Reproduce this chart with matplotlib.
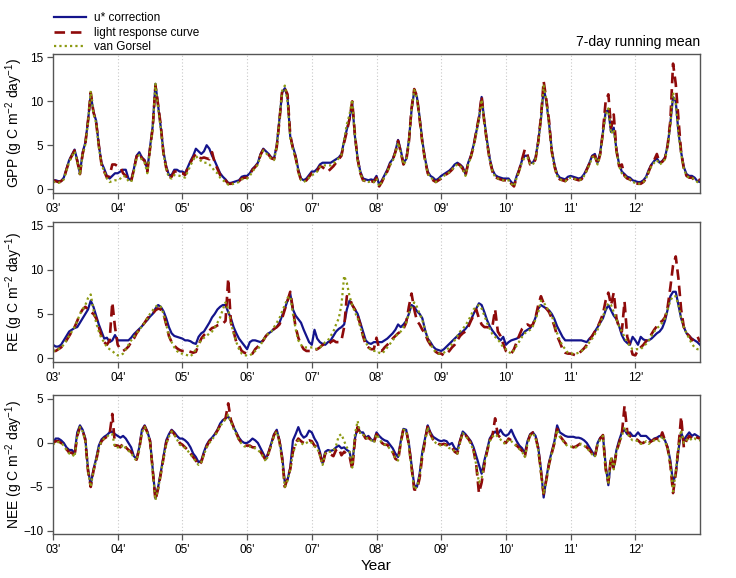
import numpy as np
import matplotlib
matplotlib.use('Agg')
import matplotlib.pyplot as plt
from matplotlib.lines import Line2D

plt.rcParams['font.family'] = ['Liberation Sans', 'DejaVu Sans']
plt.rcParams['mathtext.default'] = 'regular'

# semi-monthly samples, 2003-01 .. 2013-01
year = 2003 + np.arange(241) / 24.0

# GPP (g C m-2 day-1)
gpp_ustar = [
    1.0, 1.0, 0.9, 0.9, 1.3, 2.3, 3.3, 3.9, 4.5, 3.3, 1.8, 4.2, 5.3, 7.8, 10.8, 8.8, 7.8, 5.0, 3.0, 2.3, 1.5, 1.2, 1.5, 1.8,
    1.8, 2.0, 2.2, 2.2, 1.2, 1.0, 2.3, 3.8, 4.2, 3.6, 3.3, 2.2, 4.8, 7.2, 12.0, 9.5, 7.0, 4.2, 2.6, 1.6, 1.6, 2.2, 2.2, 2.0,
    2.0, 1.8, 2.5, 3.2, 3.8, 4.6, 4.3, 4.0, 4.3, 5.0, 4.6, 3.8, 3.2, 2.5, 1.8, 1.4, 1.1, 0.7, 0.7, 0.8, 0.9, 1.0, 1.4, 1.5,
    1.5, 1.8, 2.3, 2.6, 3.0, 4.0, 4.6, 4.3, 4.0, 3.6, 3.5, 5.0, 8.0, 11.0, 11.5, 10.5, 6.0, 4.8, 3.8, 2.2, 1.2, 1.0, 1.2, 1.6,
    2.0, 2.0, 2.3, 2.8, 3.0, 3.0, 3.0, 3.0, 3.2, 3.4, 3.6, 4.0, 5.5, 6.8, 8.0, 9.8, 6.0, 3.5, 2.0, 1.2, 1.1, 1.0, 1.1, 1.0,
    1.5, 0.5, 1.0, 1.6, 2.2, 3.0, 3.4, 4.3, 5.6, 4.4, 3.0, 3.4, 5.5, 9.0, 11.2, 10.5, 8.2, 5.5, 3.5, 2.0, 1.5, 1.3, 1.0, 1.2,
    1.5, 1.7, 1.9, 2.1, 2.4, 2.8, 3.0, 2.8, 2.5, 1.7, 3.0, 3.8, 5.0, 6.5, 8.0, 10.5, 7.8, 5.5, 3.5, 2.2, 1.6, 1.4, 1.3, 1.2,
    1.2, 1.2, 0.8, 0.5, 1.5, 2.3, 3.3, 3.8, 3.8, 3.0, 3.0, 3.6, 5.5, 8.0, 11.5, 10.0, 7.5, 4.5, 2.8, 1.7, 1.3, 1.2, 1.1, 1.4,
    1.5, 1.4, 1.3, 1.2, 1.3, 1.7, 2.3, 3.0, 3.8, 4.0, 3.0, 4.2, 6.5, 8.8, 9.0, 6.5, 7.0, 4.5, 2.8, 2.0, 1.7, 1.4, 1.3, 1.0,
    0.9, 0.8, 0.8, 1.0, 1.4, 2.2, 2.8, 3.2, 3.5, 3.0, 3.2, 3.6, 5.0, 7.5, 10.5, 10.0, 6.5, 4.2, 2.5, 1.7, 1.5, 1.5, 1.3, 0.9,
    0.8]
gpp_lrc = [
    1.0, 0.9, 0.8, 0.9, 1.2, 2.2, 3.2, 3.8, 4.4, 3.2, 1.7, 4.0, 5.2, 7.8, 11.0, 8.8, 7.6, 5.0, 2.8, 2.0, 1.3, 1.5, 2.8, 2.8,
    2.6, 2.5, 1.8, 1.5, 1.1, 0.9, 2.2, 3.7, 4.1, 3.5, 3.2, 2.0, 4.6, 7.0, 11.8, 9.6, 7.2, 4.0, 2.4, 1.4, 1.4, 2.0, 2.0, 1.8,
    1.8, 1.6, 2.4, 3.0, 3.6, 4.0, 3.6, 3.5, 3.6, 3.5, 3.4, 4.2, 3.0, 2.3, 1.6, 1.2, 1.0, 0.6, 0.6, 0.7, 0.8, 0.9, 1.2, 1.3,
    1.3, 1.6, 2.2, 2.5, 2.9, 3.9, 4.5, 4.3, 3.9, 3.5, 3.4, 4.8, 7.8, 11.2, 11.5, 10.8, 6.2, 4.6, 3.6, 2.0, 1.0, 0.8, 1.0, 1.4,
    1.8, 1.8, 2.1, 2.6, 2.5, 2.2, 2.0, 2.3, 2.6, 3.0, 3.4, 3.8, 5.3, 6.6, 8.0, 10.0, 6.2, 3.4, 1.8, 1.0, 0.9, 0.8, 0.9, 0.8,
    1.3, 0.3, 0.8, 1.5, 2.0, 2.8, 3.3, 4.2, 5.5, 4.2, 2.8, 3.2, 5.3, 9.2, 11.4, 10.6, 8.0, 5.3, 3.3, 1.8, 1.2, 1.0, 0.8, 1.0,
    1.2, 1.5, 1.7, 1.9, 2.2, 2.6, 2.9, 2.7, 2.3, 1.5, 2.9, 3.7, 4.8, 6.6, 8.2, 10.6, 7.6, 5.3, 3.3, 2.0, 1.4, 1.2, 1.1, 1.0,
    1.0, 1.0, 0.6, 0.3, 1.3, 2.2, 3.4, 4.5, 3.9, 2.8, 2.8, 3.4, 5.4, 8.2, 12.3, 10.2, 7.8, 4.3, 2.6, 1.5, 1.1, 1.0, 0.9, 1.2,
    1.3, 1.2, 1.1, 1.0, 1.1, 1.5, 2.2, 2.9, 3.7, 3.8, 2.8, 4.0, 6.6, 10.0, 10.8, 7.0, 8.5, 4.4, 2.6, 2.8, 1.5, 1.2, 1.1, 0.8,
    0.7, 0.6, 0.6, 0.8, 1.2, 2.0, 2.8, 3.3, 4.0, 3.0, 3.1, 3.5, 5.0, 7.8, 14.3, 12.0, 8.0, 4.2, 2.3, 1.5, 1.3, 1.3, 1.0, 1.2,
    1.0]
gpp_vg = [
    0.8, 0.8, 0.7, 0.8, 1.1, 2.1, 3.1, 3.7, 4.3, 3.1, 1.6, 4.0, 5.1, 7.6, 11.2, 8.6, 7.5, 4.8, 2.8, 2.0, 1.2, 0.8, 0.9, 1.0,
    1.0, 1.2, 1.5, 1.4, 0.9, 0.8, 2.0, 3.5, 3.9, 3.3, 3.0, 1.8, 4.5, 7.0, 12.0, 9.2, 6.8, 4.0, 2.3, 1.3, 1.2, 1.6, 1.6, 1.5,
    1.4, 1.3, 2.0, 2.7, 3.3, 3.8, 3.4, 3.2, 3.0, 3.0, 2.8, 2.5, 2.0, 1.8, 1.3, 1.0, 0.8, 0.5, 0.5, 0.6, 0.7, 0.8, 1.1, 1.2,
    1.2, 1.5, 2.0, 2.4, 2.8, 3.8, 4.4, 4.1, 3.8, 3.4, 3.3, 4.8, 8.0, 11.2, 11.8, 10.0, 5.8, 4.5, 3.5, 1.9, 1.0, 0.8, 1.0, 1.3,
    1.6, 1.7, 2.0, 2.5, 2.7, 2.7, 2.7, 2.7, 2.9, 3.2, 3.5, 3.9, 5.6, 7.4, 8.5, 10.2, 6.0, 3.3, 1.8, 1.0, 0.9, 0.8, 0.9, 0.8,
    1.2, 0.3, 0.8, 1.4, 2.0, 2.7, 3.2, 4.1, 5.3, 4.2, 2.8, 3.2, 5.4, 9.0, 11.3, 10.4, 8.0, 5.3, 3.3, 1.8, 1.3, 1.1, 0.8, 1.0,
    1.3, 1.5, 1.7, 1.9, 2.2, 2.6, 2.8, 2.6, 2.3, 1.5, 2.8, 3.6, 4.8, 6.3, 8.0, 10.2, 7.6, 5.3, 3.3, 2.0, 1.4, 1.2, 1.1, 1.0,
    1.0, 1.0, 0.6, 0.3, 1.3, 2.1, 3.1, 3.6, 3.6, 2.8, 2.8, 3.4, 5.3, 8.0, 11.8, 10.0, 7.3, 4.3, 2.6, 1.5, 1.1, 1.0, 0.9, 1.2,
    1.3, 1.2, 1.1, 1.0, 1.1, 1.5, 2.1, 2.8, 3.6, 3.8, 2.8, 4.0, 6.3, 8.5, 9.2, 6.3, 6.8, 4.3, 2.6, 1.8, 1.5, 1.2, 1.1, 0.8,
    0.7, 0.6, 0.6, 0.8, 1.2, 2.0, 2.6, 3.0, 3.3, 2.8, 3.0, 3.4, 4.8, 7.3, 11.0, 9.8, 6.3, 4.0, 2.3, 1.5, 1.3, 1.3, 1.1, 0.8,
    0.7]

# RE (g C m-2 day-1)
re_ustar = [
    1.5, 1.3, 1.3, 1.5, 2.0, 2.5, 3.0, 3.2, 3.4, 3.5, 4.0, 4.5, 5.0, 5.5, 6.5, 5.8, 4.8, 3.8, 3.0, 2.2, 2.3, 1.8, 2.0, 2.6,
    2.0, 2.0, 2.0, 2.0, 2.0, 2.3, 2.7, 3.0, 3.3, 3.6, 4.0, 4.3, 4.7, 5.0, 5.6, 6.0, 5.8, 5.3, 4.5, 3.5, 2.8, 2.5, 2.4, 2.3,
    2.2, 2.0, 2.0, 1.9, 1.7, 1.6, 2.4, 2.8, 3.0, 3.5, 4.0, 4.6, 5.0, 5.5, 5.8, 6.0, 6.0, 5.2, 4.5, 3.5, 2.8, 2.2, 1.8, 1.4,
    1.0, 1.8, 2.0, 2.0, 1.9, 1.8, 2.0, 2.5, 2.8, 3.0, 3.3, 3.5, 4.0, 4.8, 5.6, 6.5, 7.3, 5.5, 4.8, 4.4, 4.0, 3.2, 2.5, 1.8,
    1.5, 3.2, 2.2, 1.8, 1.6, 1.5, 1.8, 2.0, 2.5, 3.0, 3.3, 3.5, 3.8, 5.5, 6.5, 6.0, 5.5, 5.0, 4.0, 3.0, 2.0, 1.7, 1.6, 1.8,
    1.8, 1.8, 1.8, 2.0, 2.2, 2.5, 2.8, 3.2, 3.8, 3.5, 3.8, 4.2, 5.0, 6.0, 5.8, 5.3, 5.0, 4.5, 3.2, 2.2, 1.8, 1.3, 1.0, 0.9,
    0.8, 1.0, 1.3, 1.6, 1.9, 2.2, 2.5, 2.8, 3.0, 3.3, 3.7, 4.3, 5.0, 5.6, 6.2, 6.0, 5.2, 4.3, 3.6, 3.1, 2.7, 2.3, 2.0, 2.4,
    1.5, 1.8, 2.0, 2.1, 2.2, 2.4, 2.6, 3.0, 3.2, 3.4, 3.8, 4.6, 5.6, 6.0, 5.8, 5.6, 5.4, 5.0, 4.4, 3.6, 3.0, 2.4, 2.0, 2.0,
    2.0, 2.0, 2.0, 2.0, 2.0, 1.9, 1.8, 2.2, 2.5, 3.0, 3.5, 4.0, 4.5, 5.4, 6.0, 5.4, 4.8, 4.4, 3.6, 2.6, 2.0, 1.7, 1.5, 2.4,
    2.0, 1.5, 2.4, 2.1, 2.0, 2.0, 2.2, 2.5, 2.8, 3.0, 3.4, 4.2, 5.5, 7.0, 7.5, 7.5, 6.0, 4.5, 3.5, 2.8, 2.5, 2.2, 2.0, 1.8,
    1.5]
re_lrc = [
    0.8, 0.8, 1.0, 1.2, 1.5, 2.0, 2.5, 3.0, 3.5, 4.2, 5.0, 5.5, 5.8, 5.5, 5.2, 5.0, 4.5, 3.5, 2.5, 1.8, 1.5, 2.0, 6.3, 3.5,
    1.5, 1.0, 0.8, 1.0, 1.3, 1.8, 2.2, 2.8, 3.2, 3.6, 4.0, 4.5, 4.8, 5.0, 5.4, 5.6, 5.5, 5.0, 3.8, 2.5, 1.8, 1.4, 1.1, 0.9,
    0.8, 0.8, 0.8, 0.7, 0.6, 0.7, 1.5, 2.2, 2.6, 2.9, 3.1, 3.4, 3.5, 3.7, 3.8, 3.9, 4.2, 9.0, 4.0, 3.0, 1.8, 1.4, 0.8, 0.6,
    0.5, 0.4, 0.5, 1.0, 1.3, 1.6, 2.0, 2.5, 2.8, 3.0, 3.3, 3.5, 3.8, 4.5, 5.5, 6.5, 7.5, 5.5, 3.5, 2.3, 1.5, 1.0, 0.8, 0.8,
    0.8, 0.9, 1.0, 1.2, 1.5, 1.5, 1.5, 1.8, 2.0, 1.8, 1.8, 2.0, 3.5, 7.0, 6.8, 6.0, 5.5, 4.8, 3.8, 2.5, 1.5, 1.2, 1.0, 1.0,
    2.3, 1.0, 0.8, 1.2, 1.5, 1.8, 2.2, 2.5, 2.8, 3.0, 3.3, 4.0, 5.8, 7.3, 5.5, 4.2, 3.8, 3.2, 2.8, 2.0, 1.5, 1.0, 0.7, 0.5,
    0.5, 0.3, 0.5, 0.8, 1.2, 1.5, 2.0, 2.5, 2.8, 3.0, 3.5, 4.2, 4.8, 5.5, 4.5, 3.8, 3.5, 3.5, 3.4, 3.6, 5.5, 3.0, 2.5, 1.6,
    0.8, 0.6, 0.5, 1.0, 1.8, 2.6, 3.3, 3.6, 3.8, 3.6, 3.8, 4.6, 6.0, 7.0, 6.2, 5.6, 5.2, 4.5, 3.6, 2.5, 1.8, 1.0, 0.6, 0.5,
    0.5, 0.4, 0.3, 0.5, 0.8, 1.1, 1.5, 2.0, 2.5, 3.0, 3.5, 4.2, 5.0, 6.5, 7.4, 6.0, 7.4, 4.5, 3.4, 3.0, 6.4, 2.4, 1.5, 0.4,
    0.3, 0.9, 1.2, 1.5, 1.9, 2.3, 2.7, 3.2, 3.6, 4.0, 4.2, 4.6, 5.8, 8.0, 10.5, 11.5, 9.0, 5.5, 3.5, 2.8, 2.5, 2.0, 2.3, 2.5,
    1.8]
re_vg = [
    0.8, 0.8, 1.0, 1.2, 1.5, 2.0, 2.5, 3.0, 3.5, 4.2, 5.0, 5.5, 6.0, 6.8, 7.2, 5.5, 4.0, 3.0, 2.2, 1.8, 1.2, 1.0, 0.8, 0.5,
    0.3, 0.3, 0.5, 1.0, 1.5, 2.0, 2.4, 2.8, 3.2, 3.6, 4.0, 4.5, 5.0, 5.4, 5.8, 6.0, 5.8, 5.0, 3.8, 2.5, 1.8, 1.2, 0.8, 0.5,
    0.5, 0.4, 0.3, 0.2, 0.5, 1.0, 1.6, 2.0, 2.3, 2.5, 2.8, 3.0, 3.5, 4.0, 4.6, 5.5, 6.3, 5.5, 4.0, 2.8, 1.8, 1.0, 0.5, 0.3,
    0.3, 0.3, 0.5, 0.8, 1.0, 1.5, 2.0, 2.5, 2.8, 3.0, 3.5, 4.0, 4.5, 5.3, 6.0, 6.8, 7.0, 5.0, 3.3, 2.0, 1.5, 1.2, 1.2, 1.2,
    1.2, 1.1, 1.0, 1.2, 1.5, 1.8, 2.0, 2.5, 3.0, 3.8, 4.5, 6.0, 9.3, 8.5, 7.0, 6.0, 5.2, 4.5, 3.5, 2.5, 1.8, 1.2, 0.9, 0.8,
    0.8, 0.6, 0.5, 0.8, 1.2, 1.6, 2.0, 2.4, 2.8, 3.0, 3.5, 4.0, 5.0, 5.8, 6.3, 5.8, 5.0, 4.3, 3.2, 2.3, 1.6, 1.0, 0.7, 0.5,
    0.5, 0.6, 0.9, 1.2, 1.6, 2.0, 2.5, 3.0, 3.3, 3.7, 4.2, 4.8, 5.5, 5.8, 6.0, 5.6, 4.8, 4.0, 3.3, 2.7, 2.4, 2.1, 1.7, 1.2,
    1.0, 0.7, 0.5, 0.9, 1.4, 1.9, 2.4, 2.8, 3.0, 3.2, 3.6, 4.4, 5.2, 6.5, 6.3, 5.8, 5.3, 4.8, 3.8, 2.8, 2.0, 1.4, 1.0, 0.6,
    0.5, 0.5, 0.5, 0.6, 0.8, 1.0, 1.3, 1.8, 2.2, 2.7, 3.2, 4.0, 4.7, 5.6, 6.2, 6.0, 5.2, 4.4, 3.6, 3.0, 2.4, 1.8, 1.3, 1.0,
    1.0, 1.0, 1.0, 1.3, 1.6, 2.0, 2.5, 3.0, 3.4, 3.6, 4.0, 4.5, 5.5, 6.5, 7.0, 7.0, 6.0, 4.5, 3.5, 2.8, 2.2, 1.6, 1.2, 1.0,
    1.0]

# NEE (g C m-2 day-1)
nee_ustar = [
    0.0, 0.5, 0.5, 0.3, 0.0, -0.5, -0.8, -0.8, -1.2, 1.2, 2.0, 1.5, 0.5, -3.0, -4.8, -3.0, -1.8, -0.3, 0.4, 0.7, 0.9, 1.2, 1.3, 1.0,
    0.8, 0.6, 0.8, 0.5, 0.0, -0.5, -1.5, -1.8, -0.5, 1.5, 2.0, 1.3, 0.3, -3.0, -6.3, -5.0, -3.3, -1.5, 0.3, 1.0, 1.5, 1.2, 0.8, 0.5,
    0.5, 0.3, 0.0, -0.5, -1.2, -1.6, -2.2, -2.0, -1.0, -0.2, 0.3, 0.6, 1.0, 1.5, 2.2, 2.6, 2.8, 3.0, 2.5, 1.8, 1.2, 0.6, 0.2, 0.0,
    0.0, 0.2, 0.5, 0.3, 0.0, -0.6, -1.2, -1.8, -1.0, 0.0, 1.0, 1.5, 0.3, -1.5, -4.5, -4.2, -2.8, 0.3, 1.0, 1.8, 1.0, 0.6, 0.8, 1.4,
    1.2, 0.5, 0.0, -1.0, -2.3, -1.0, -0.8, -0.9, -0.8, -0.5, -0.3, -0.6, -0.5, -0.8, -1.0, -2.5, 0.5, 1.8, 1.2, 1.2, 0.6, 0.8, 0.4, 0.2,
    1.2, 0.8, 0.5, 0.3, 0.2, -0.2, -0.6, -1.2, -1.6, 0.2, 1.6, 1.5, 0.0, -2.5, -4.8, -5.0, -3.5, -1.0, 0.5, 2.0, 1.2, 0.7, 0.5, 0.3,
    0.2, 0.3, 0.2, -0.2, 0.0, -0.6, -0.8, 0.3, 1.3, 1.0, 0.6, 0.2, -0.5, -1.5, -2.5, -3.5, -2.0, -0.8, 0.5, 1.0, 1.3, 1.0, 1.5, 1.0,
    0.8, 1.0, 1.5, 0.8, 0.2, -0.3, -0.6, -1.2, 0.2, 1.0, 1.2, 0.8, -0.5, -3.0, -6.2, -4.0, -2.2, -1.0, 0.2, 2.0, 1.2, 1.0, 0.8, 0.7,
    0.7, 0.7, 0.6, 0.6, 0.5, 0.3, 0.0, -0.5, -1.0, -1.5, 0.0, 0.6, 0.8, -2.5, -4.8, -1.8, -2.8, -0.8, 0.3, 1.2, 1.5, 1.0, 1.2, 0.8,
    0.8, 1.2, 0.8, 0.8, 0.8, 0.5, 0.2, 0.5, 0.6, 0.8, 0.7, 0.3, -0.5, -2.0, -4.5, -3.5, -0.8, 1.2, 0.3, 0.8, 1.2, 0.8, 1.0, 0.8,
    0.6]
nee_lrc = [
    0.0, 0.2, 0.2, 0.0, -0.2, -0.7, -1.1, -1.1, -1.5, 0.8, 1.8, 1.4, 0.3, -3.2, -5.0, -3.2, -2.0, -0.6, 0.2, 0.5, 0.7, 1.0, 3.3, -0.3,
    -0.3, -0.5, 0.0, -0.5, -0.8, -1.0, -1.6, -1.9, -0.7, 1.3, 1.9, 1.2, 0.2, -3.2, -6.5, -5.2, -3.5, -1.7, 0.0, 0.8, 1.4, 1.0, 0.5, 0.0,
    -0.2, -0.5, -0.8, -1.2, -1.6, -2.0, -2.5, -2.2, -1.2, -0.4, 0.2, 0.5, 0.9, 1.4, 2.0, 2.4, 2.8, 4.5, 2.6, 1.8, 1.1, 0.4, 0.0, -0.3,
    -0.3, -0.3, -0.5, -0.5, -0.7, -1.0, -1.5, -2.0, -1.1, -0.1, 0.9, 1.4, 0.2, -1.8, -5.0, -4.0, -3.0, -1.0, 0.0, 0.5, 0.2, 0.0, 0.2, 0.3,
    0.2, -0.3, -0.5, -1.3, -2.5, -1.2, -1.0, -1.3, -1.5, -0.8, -0.6, -1.4, -1.0, -1.3, -1.5, -3.0, 0.3, 1.8, 1.0, 1.0, 0.5, 0.6, 0.3, 0.0,
    1.0, 0.5, 0.0, -0.2, -0.2, -0.6, -1.0, -1.8, -2.0, 0.0, 1.6, 1.5, -0.2, -2.8, -5.3, -5.3, -4.0, -1.5, 0.2, 2.0, 1.0, 0.4, 0.1, -0.1,
    -0.2, -0.1, -0.2, -0.5, -0.5, -1.0, -1.2, 0.2, 1.2, 0.9, 0.5, 0.0, -0.8, -2.5, -5.7, -4.5, -2.5, -1.0, 0.3, 0.8, 2.8, 0.9, 0.6, 0.2,
    0.0, 0.5, 0.3, 0.0, -0.3, -0.6, -0.9, -1.6, 0.0, 0.9, 1.2, 0.7, -0.7, -3.3, -5.8, -4.2, -2.4, -1.2, 0.0, 1.6, 0.8, 0.4, 0.0, -0.3,
    -0.3, -0.5, -0.4, -0.2, 0.0, -0.2, -0.5, -0.8, -1.2, -1.6, -0.1, 0.5, 0.9, -3.0, -4.5, -1.5, -3.0, -1.0, 0.0, 1.0, 4.2, 1.3, 0.8, 0.5,
    0.5, 0.3, 0.0, 0.0, 0.3, 0.0, 0.2, 0.4, 0.5, 0.3, 1.2, 0.3, -0.6, -2.5, -5.7, -3.5, -0.5, 3.0, -0.5, 0.3, 0.8, 0.5, 0.8, 0.6,
    0.5]
nee_vg = [
    -0.2, 0.1, 0.1, 0.0, -0.3, -0.8, -1.2, -1.2, -1.6, 0.8, 1.8, 1.3, 0.3, -3.2, -5.0, -3.2, -2.0, -0.6, 0.2, 0.5, 0.7, 1.0, 1.0, -0.5,
    -0.5, -0.6, -0.2, -0.6, -0.9, -1.1, -1.7, -2.0, -0.8, 1.2, 1.8, 1.1, 0.1, -3.3, -6.5, -5.2, -3.5, -1.8, -0.1, 0.7, 1.3, 0.9, 0.4, -0.2,
    -0.3, -0.6, -0.9, -1.3, -1.7, -2.1, -2.5, -2.2, -1.3, -0.5, 0.0, 0.4, 0.8, 1.3, 1.9, 2.3, 2.7, 3.2, 2.4, 1.6, 1.0, 0.3, -0.1, -0.4,
    -0.4, -0.4, -0.6, -0.6, -0.8, -1.1, -1.6, -2.1, -1.2, -0.2, 0.8, 1.3, 0.1, -1.9, -5.0, -4.3, -3.0, -1.2, -0.2, 0.3, 0.0, -0.2, 0.0, 0.2,
    0.0, -0.4, -0.6, -1.4, -2.5, -1.2, -1.0, -1.0, -0.9, -0.3, 0.8, 1.0, 0.2, -0.5, -1.0, -2.8, 1.0, 2.5, 1.0, 1.0, 0.5, 0.6, 0.3, 0.0,
    1.0, 0.5, 0.0, -0.2, -0.3, -0.7, -1.1, -1.8, -2.0, -0.1, 1.5, 1.4, -0.3, -3.0, -5.3, -5.0, -3.8, -1.3, 0.3, 1.8, 0.9, 0.3, 0.0, -0.2,
    -0.3, -0.2, -0.3, -0.6, -0.6, -1.0, -1.2, 0.1, 1.1, 0.8, 0.4, -0.1, -0.9, -2.5, -4.5, -4.0, -2.3, -1.0, 0.2, 0.7, 1.0, 0.7, 0.4, 0.0,
    -0.1, 0.4, 0.2, -0.1, -0.4, -0.7, -1.0, -1.6, -0.1, 0.8, 1.1, 0.6, -0.8, -3.5, -5.8, -4.3, -2.5, -1.2, -0.1, 1.5, 0.7, 0.3, -0.1, -0.4,
    -0.4, -0.6, -0.5, -0.3, -0.1, -0.3, -0.6, -0.9, -1.3, -1.6, -0.2, 0.4, 0.8, -3.0, -4.5, -1.6, -3.0, -1.0, -0.1, 0.8, 1.8, 1.1, 0.6, 0.3,
    0.3, 0.2, -0.1, -0.1, 0.2, -0.1, 0.1, 0.3, 0.4, 0.2, 0.8, 0.2, -0.7, -2.5, -5.5, -3.3, -0.6, 1.5, 0.0, 0.3, 0.6, 0.3, 0.5, 0.3,
    0.3]

series_names = ['u* correction', 'light response curve', 'van Gorsel']
year_ticks = list(range(2003, 2013))
year_labels = ["%02d'" % (y % 100) for y in year_ticks]

for s in [gpp_ustar, gpp_lrc, gpp_vg, re_ustar, re_lrc, re_vg, nee_ustar, nee_lrc, nee_vg]:
    assert len(s) == len(year), len(s)

# line styles
styles = [
    dict(color='#14148c', lw=1.6, ls='-'),
    dict(color='#8e0a0a', lw=1.9, ls=(0, (4.0, 2.2))),
    dict(color='#8c9a12', lw=1.6, ls=(0, (1.0, 1.4))),
]

panels = [
    ('GPP', (gpp_ustar, gpp_lrc, gpp_vg), (-0.45, 15.4), [0, 5, 10, 15]),
    ('RE', (re_ustar, re_lrc, re_vg), (-0.45, 15.4), [0, 5, 10, 15]),
    ('NEE', (nee_ustar, nee_lrc, nee_vg), (-10.35, 5.45), [-10, -5, 0, 5]),
]
axes_pos = [
    [0.072, 0.6661, 0.8791, 0.2405],
    [0.072, 0.3737, 0.8791, 0.2422],
    [0.072, 0.0761, 0.8791, 0.2405],
]

fig = plt.figure(figsize=(7.36, 5.78), dpi=100)

for (name, data, ylim, yticks), pos in zip(panels, axes_pos):
    ax = fig.add_axes(pos)
    for y in year_ticks[1:]:
        ax.axvline(y, color='#c8c8c8', lw=0.8, ls=(0, (1, 2)), zorder=0)
    for vals, st in zip(data, styles):
        ax.plot(year, vals, **st)
    ax.set_xlim(2003, 2013)
    ax.set_ylim(*ylim)
    ax.set_yticks(yticks)
    ax.set_xticks(year_ticks)
    ax.set_xticklabels(year_labels)
    ax.tick_params(direction='out', length=4, width=0.9, color='#555555',
                   labelsize=8.5, pad=3)
    for sp in ax.spines.values():
        sp.set_color('#555555')
        sp.set_linewidth(1.0)
    ax.set_ylabel(name + ' (g C m$^{-2}$ day$^{-1}$)', fontsize=10)
    ax.yaxis.set_label_coords(-0.044, 0.5)

ax.set_xlabel('Year', fontsize=11, labelpad=2)

handles = [Line2D([], [], **st) for st in styles]
fig.legend(handles, series_names, loc='upper left', bbox_to_anchor=(0.062, 0.993),
           frameon=False, fontsize=8.5, handlelength=2.7, handletextpad=0.7,
           labelspacing=0.2, borderaxespad=0.3)
fig.text(700 / 736, 1 - 42 / 578, '7-day running mean', ha='right', va='center',
         fontsize=10)

fig.savefig('out.png', dpi=100)
